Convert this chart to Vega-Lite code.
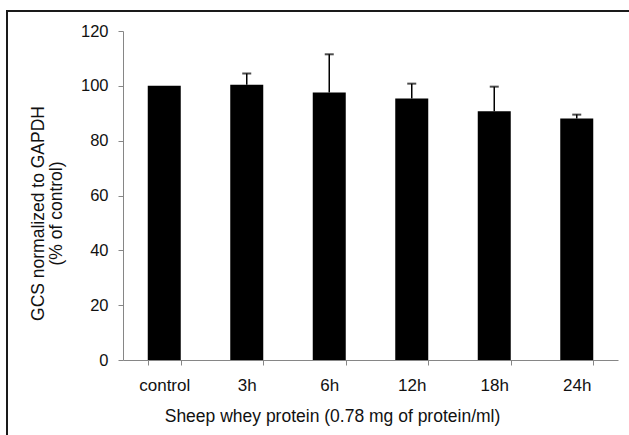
{
  "$schema": "https://vega.github.io/schema/vega-lite/v6.json",
  "width": 622,
  "height": 424,
  "padding": {"left": 7, "top": 11, "right": 0, "bottom": 0},
  "autosize": {"type": "none"},
  "background": "white",
  "config": {
    "view": {"stroke": "#1a1a1a", "strokeWidth": 2, "strokeDash": [622, 1046, 424, 1200]},
    "font": "Liberation Sans",
    "axis": {
      "grid": false,
      "domainColor": "#868686",
      "tickColor": "#868686",
      "tickSize": 5,
      "labelColor": "#111111",
      "titleColor": "#111111",
      "labelFont": "Liberation Sans",
      "titleFont": "Liberation Sans",
      "titleFontWeight": "normal"
    }
  },
  "data": {
    "values": [
      {"group": "control", "mean": 100, "upper": null},
      {"group": "3h", "mean": 100.4, "upper": 104.5},
      {"group": "6h", "mean": 97.6, "upper": 111.5},
      {"group": "12h", "mean": 95.4, "upper": 100.8},
      {"group": "18h", "mean": 90.7, "upper": 99.7},
      {"group": "24h", "mean": 88.1, "upper": 89.5}
    ]
  },
  "encoding": {
    "x": {
      "field": "group",
      "type": "nominal",
      "sort": null,
      "scale": {"range": [116, 611], "paddingInner": 0.6, "paddingOuter": 0.3},
      "axis": {
        "orient": "bottom",
        "offset": -75,
        "tickBand": "extent",
        "labelAngle": 0,
        "labelFontSize": 17,
        "labelPadding": 12,
        "title": "Sheep whey protein (0.78 mg of protein/ml)",
        "titleFontSize": 17.5,
        "titleBaseline": "alphabetic",
        "titleAnchor": null,
        "titleAlign": "center",
        "titleX": 325,
        "titleY": 61
      }
    }
  },
  "layer": [
    {
      "mark": {"type": "bar", "color": "black"},
      "encoding": {
        "y": {
          "field": "mean",
          "type": "quantitative",
          "scale": {"domain": [0, 120], "range": [349, 20], "nice": false},
          "title": ["GCS normalized to GAPDH", "(% of control)"],
          "axis": {
            "orient": "left",
            "offset": -116,
            "values": [0, 20, 40, 60, 80, 100, 120],
            "labelFontSize": 16.5,
            "labelPadding": 10,
            "titleFontSize": 17.5,
            "titleLineHeight": 18.5,
            "titleBaseline": "alphabetic",
            "titleAlign": "center",
            "titleAnchor": null,
            "titleAngle": -90,
            "titleX": -80,
            "titleY": 202
          }
        }
      }
    },
    {
      "mark": {"type": "rule", "color": "black", "strokeWidth": 1.5},
      "encoding": {
        "y": {"field": "mean", "type": "quantitative", "title": ["GCS normalized to GAPDH", "(% of control)"]},
        "y2": {"field": "upper"}
      }
    },
    {
      "mark": {"type": "tick", "color": "black", "thickness": 2, "size": 9},
      "encoding": {
        "y": {"field": "upper", "type": "quantitative", "title": ["GCS normalized to GAPDH", "(% of control)"]}
      }
    }
  ]
}
